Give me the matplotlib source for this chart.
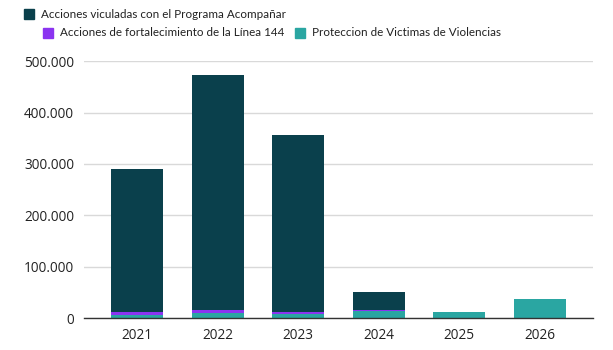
import matplotlib
matplotlib.use("Agg")
import matplotlib.pyplot as plt
from matplotlib.patches import Rectangle
from matplotlib.ticker import FuncFormatter

years = ["2021", "2022", "2023", "2024", "2025", "2026"]
proteccion = [5800, 9700, 8000, 13600, 11700, 37000]
linea144 = [5200, 5200, 4000, 2500, 0, 0]
acompanar = [278600, 457800, 345000, 34500, 0, 0]

series_names = ["Acciones viculadas con el Programa Acompañar",
                "Acciones de fortalecimiento de la Línea 144",
                "Proteccion de Victimas de Violencias"]
c_dark = "#0a404c"
c_purple = "#8b34f0"
c_teal = "#2aa6a2"

plt.rcParams['font.family'] = ['Open Sans', 'DejaVu Sans']

fig = plt.figure(figsize=(6.13, 3.5), dpi=100)
ax = fig.add_axes([84/613, 1-318/350, (593-84)/613, (318-61.3)/350])

x = list(range(len(years)))
w = 0.65
ax.bar(x, proteccion, width=w, color=c_teal, zorder=3)
b2 = [p for p in proteccion]
ax.bar(x, linea144, width=w, bottom=b2, color=c_purple, zorder=3)
b3 = [p + l for p, l in zip(proteccion, linea144)]
ax.bar(x, acompanar, width=w, bottom=b3, color=c_dark, zorder=3)

ax.set_xlim(-0.66, 5.66)
ax.set_ylim(0, 500000)
ax.set_yticks([0, 100000, 200000, 300000, 400000, 500000])
ax.yaxis.set_major_formatter(FuncFormatter(lambda v, p: f"{int(v):,}".replace(",", ".")))
ax.set_xticks(x)
ax.set_xticklabels(years)
ax.tick_params(axis='both', length=0, labelsize=9.8, colors="#222222")
ax.tick_params(axis='y', pad=7)
ax.tick_params(axis='x', pad=7)
ax.grid(axis='y', color="#d9d9d9", linewidth=1, zorder=0)
for s in ["top", "right", "left"]:
    ax.spines[s].set_visible(False)
ax.spines["bottom"].set_color("#333333")
ax.spines["bottom"].set_linewidth(1)
ax.spines["bottom"].set_zorder(4)

# legend, manual
legend_items = [
    (24, 14, c_dark, series_names[0]),
    (43, 33, c_purple, series_names[1]),
    (295, 33, c_teal, series_names[2]),
]
sq = 10
for px, py, col, name in legend_items:
    fig.patches.append(Rectangle((px/613, 1-(py+sq/2)/350), sq/613, sq/350,
                                 transform=fig.transFigure, color=col, figure=fig))
    fig.text((px+sq+7)/613, 1-py/350, name, fontsize=8.4, color="#222222",
             va="center", ha="left", family=['Lato', 'DejaVu Sans'])

fig.savefig("out.png", dpi=100)
